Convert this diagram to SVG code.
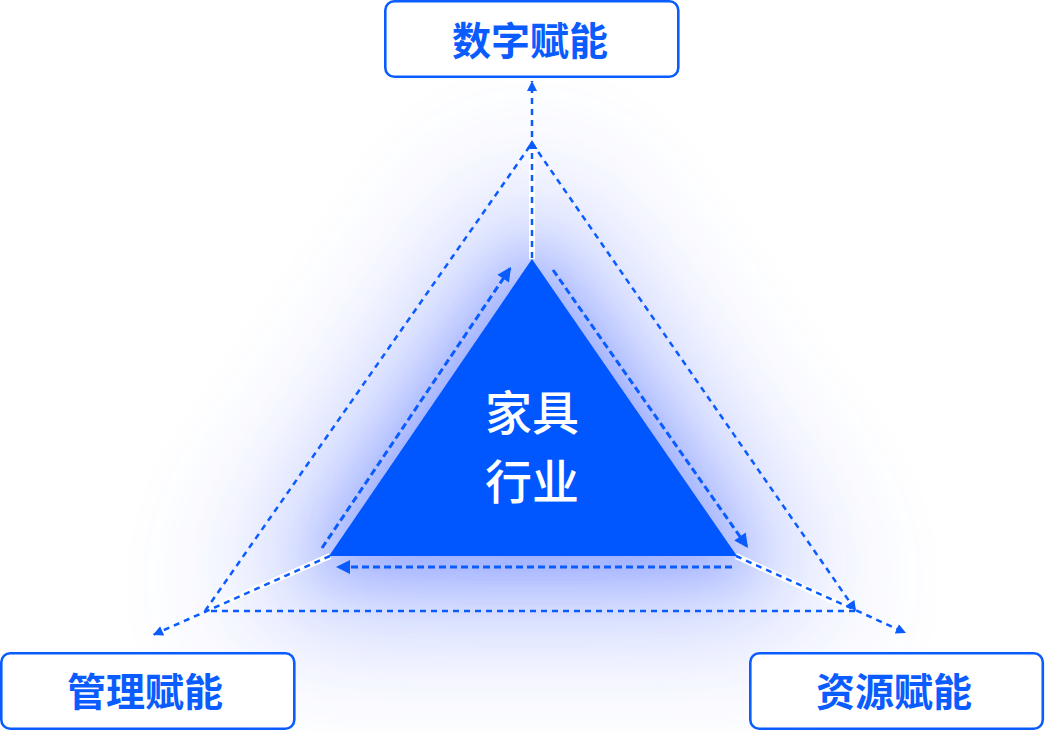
<svg xmlns="http://www.w3.org/2000/svg" width="1045" height="731" viewBox="0 0 1045 731">
<defs>
<style>
.box{fill:#fff;stroke:#0A5CFF;stroke-width:2.6}
.lbl{font-family:"Noto Sans CJK SC","Noto Sans",sans-serif;font-size:39px;font-weight:700;fill:#0A5CFF;text-anchor:middle}
.inner{font-family:"Noto Sans CJK SC","Noto Sans",sans-serif;font-size:47px;font-weight:500;fill:#fff;text-anchor:middle}
.dash{fill:none;stroke:#0A5CFF;stroke-width:2.5;stroke-dasharray:6 5}
.dashi{fill:none;stroke:#0A5CFF;stroke-width:3;stroke-dasharray:7 4}
.white{fill:none;stroke:#fff;stroke-width:6}
</style>
<marker id="arS" viewBox="0 0 10 10" refX="10" refY="5" markerWidth="11" markerHeight="10" markerUnits="userSpaceOnUse" orient="auto"><path d="M0,0 L10,5 L0,10 z" fill="#0A5CFF"/></marker>
<marker id="arL" viewBox="0 0 10 10" refX="10" refY="5" markerWidth="15" markerHeight="14" markerUnits="userSpaceOnUse" orient="auto"><path d="M0,0 L10,5 L0,10 z" fill="#0A5CFF"/></marker>
<filter id="glow" x="-60%" y="-60%" width="220%" height="220%"><feGaussianBlur stdDeviation="70"/></filter>
<filter id="glow2" x="-50%" y="-50%" width="200%" height="200%"><feGaussianBlur stdDeviation="28"/></filter>
</defs>
<rect width="1045" height="731" fill="#fff"/>
<polygon points="532,175 235,610 830,610" fill="#3a5cff" opacity="0.4" filter="url(#glow)"/>
<polygon points="532,240 305,575 760,575" fill="#4a6cff" opacity="0.35" filter="url(#glow2)"/>
<g id="connectors">
<line class="white" x1="532" y1="259" x2="532" y2="150"/>
<line class="white" x1="330" y1="556" x2="205" y2="611"/>
<line class="white" x1="736" y1="556" x2="855" y2="611"/>
<line class="dash" x1="532" y1="258" x2="532" y2="81" marker-end="url(#arS)"/>
<line class="dash" x1="205" y1="611" x2="532" y2="143"/>
<line class="dash" x1="532" y1="143" x2="856" y2="611" marker-end="url(#arS)"/>
<line class="dash" x1="855" y1="611" x2="208" y2="611"/>
<polygon points="532,140 526.5,149 537.5,149" fill="#0A5CFF"/>
<line class="dash" x1="330" y1="556" x2="153" y2="635" marker-end="url(#arS)"/>
<line class="dash" x1="736" y1="556" x2="906" y2="633" marker-end="url(#arS)"/>
<line class="dashi" x1="322" y1="548" x2="511" y2="267" marker-end="url(#arL)"/>
<line class="dashi" x1="553" y1="270" x2="748" y2="548" marker-end="url(#arL)"/>
<line class="dashi" x1="732" y1="567" x2="336" y2="567" marker-end="url(#arL)"/>
</g>
<g id="center">
<polygon points="532,259 329,556 737,556" fill="#0057FF"/>
<text class="inner" x="532" y="430">家具</text>
<text class="inner" x="532" y="499">行业</text>
</g>
<g id="top">
<rect class="box" x="385.3" y="1.3" width="293" height="75.5" rx="9"/>
<text class="lbl" x="530" y="55">数字赋能</text>
</g>
<g id="left">
<rect class="box" x="1.3" y="653.3" width="293" height="75.5" rx="9"/>
<text class="lbl" x="145" y="706">管理赋能</text>
</g>
<g id="right">
<rect class="box" x="750.3" y="653.3" width="292.5" height="75.5" rx="9"/>
<text class="lbl" x="894" y="706">资源赋能</text>
</g>
</svg>
